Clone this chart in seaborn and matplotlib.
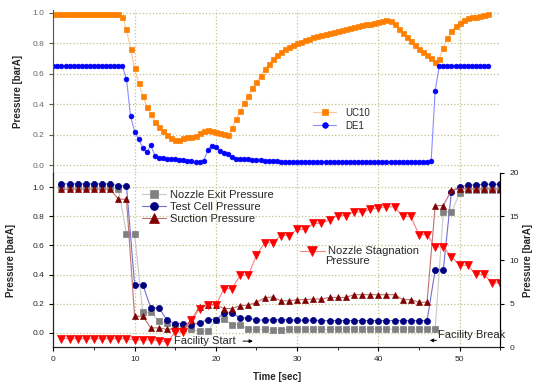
import numpy as np
import pandas as pd
import seaborn as sns
import matplotlib.pyplot as plt
from matplotlib.ticker import MultipleLocator, FormatStrFormatter

# top panel, logged every 0.5 s
t_top = np.arange(0, 54, 0.5)
uc10 = [0.995, 0.995, 0.995, 0.995, 0.995, 0.995, 0.995, 0.995, 0.995, 0.995,
        0.995, 0.995, 0.995, 0.995, 0.995, 0.995, 0.995, 0.974, 0.891, 0.760,
        0.636, 0.537, 0.454, 0.384, 0.334, 0.286, 0.253, 0.227, 0.199, 0.177,
        0.166, 0.162, 0.180, 0.184, 0.184, 0.190, 0.210, 0.225, 0.230, 0.225,
        0.216, 0.214, 0.205, 0.196, 0.242, 0.301, 0.356, 0.406, 0.454, 0.505,
        0.548, 0.587, 0.629, 0.662, 0.695, 0.723, 0.744, 0.762, 0.775, 0.788,
        0.799, 0.810, 0.820, 0.830, 0.840, 0.847, 0.855, 0.862, 0.869, 0.875,
        0.882, 0.888, 0.895, 0.901, 0.908, 0.915, 0.920, 0.925, 0.930, 0.935,
        0.940, 0.945, 0.950, 0.945, 0.925, 0.895, 0.865, 0.840, 0.812, 0.790,
        0.765, 0.745, 0.725, 0.705, 0.677, 0.700, 0.771, 0.832, 0.880, 0.913,
        0.934, 0.952, 0.963, 0.970, 0.976, 0.980, 0.987, 0.995]
de1 = [0.650, 0.650, 0.650, 0.650, 0.650, 0.650, 0.650, 0.650, 0.650, 0.650,
       0.650, 0.650, 0.650, 0.650, 0.650, 0.650, 0.650, 0.650, 0.566, 0.323,
       0.220, 0.169, 0.115, 0.083, 0.129, 0.063, 0.048, 0.044, 0.040, 0.040,
       0.038, 0.036, 0.035, 0.030, 0.024, 0.020, 0.020, 0.026, 0.098, 0.128,
       0.117, 0.090, 0.080, 0.075, 0.050, 0.042, 0.042, 0.040, 0.038, 0.036,
       0.035, 0.032, 0.030, 0.028, 0.025, 0.024, 0.023, 0.022, 0.022, 0.021,
       0.021, 0.021, 0.020, 0.020, 0.020, 0.020, 0.020, 0.020, 0.020, 0.020,
       0.020, 0.020, 0.020, 0.020, 0.020, 0.020, 0.020, 0.020, 0.020, 0.020,
       0.020, 0.020, 0.020, 0.020, 0.020, 0.020, 0.020, 0.020, 0.020, 0.020,
       0.020, 0.020, 0.020, 0.025, 0.490, 0.650, 0.650, 0.650, 0.650, 0.650,
       0.650, 0.650, 0.650, 0.650, 0.650, 0.650, 0.650, 0.650]

# bottom panel, logged every 1 s
t_bot = np.arange(1, 56)
nozzle_exit = [1.0, 1.0, 1.0, 1.0, 1.0, 1.0, 1.0, 0.99, 0.68, 0.68,
               0.14, 0.14, 0.08, 0.065, 0.046, 0.046, 0.023, 0.011, 0.011, 0.09,
               0.095, 0.057, 0.057, 0.023, 0.023, 0.023, 0.022, 0.022, 0.023, 0.023,
               0.025, 0.025, 0.023, 0.023, 0.025, 0.025, 0.025, 0.025, 0.025, 0.025,
               0.025, 0.025, 0.025, 0.025, 0.025, 0.025, 0.025, 0.829, 0.829, 0.959,
               0.98, 0.98, 0.98, 0.98, 0.98]
test_cell = [1.023, 1.023, 1.023, 1.023, 1.023, 1.023, 1.023, 1.01, 1.01, 0.331,
             0.331, 0.171, 0.171, 0.086, 0.064, 0.064, 0.055, 0.068, 0.091, 0.091,
             0.137, 0.137, 0.102, 0.100, 0.090, 0.086, 0.090, 0.090, 0.090, 0.086,
             0.086, 0.086, 0.084, 0.084, 0.084, 0.084, 0.084, 0.084, 0.084, 0.084,
             0.084, 0.084, 0.084, 0.084, 0.084, 0.084, 0.433, 0.433, 0.970, 1.004,
             1.015, 1.015, 1.02, 1.02, 1.02]
suction = [0.986, 0.986, 0.986, 0.986, 0.986, 0.986, 0.986, 0.918, 0.918, 0.114,
           0.114, 0.034, 0.034, 0.023, 0.030, 0.030, 0.090, 0.180, 0.194, 0.194,
           0.167, 0.167, 0.187, 0.190, 0.210, 0.240, 0.247, 0.220, 0.220, 0.228,
           0.228, 0.232, 0.232, 0.243, 0.243, 0.243, 0.262, 0.262, 0.262, 0.262,
           0.262, 0.262, 0.228, 0.228, 0.210, 0.210, 0.874, 0.874, 0.980, 0.990,
           0.990, 0.990, 0.990, 0.990, 0.990]
stagnation = [1.0, 1.0, 1.0, 1.0, 1.0, 1.0, 1.0, 1.0, 1.0, 0.85,
              0.85, 0.85, 0.75, 0.6, 1.76, 1.76, 3.1, 4.44, 4.82, 4.82,
              6.73, 6.73, 8.26, 8.26, 10.56, 11.97, 11.97, 12.8, 12.8, 13.5,
              13.5, 14.2, 14.2, 14.6, 15.1, 15.1, 15.5, 15.5, 15.8, 16.0,
              16.1, 16.1, 15.0, 15.0, 12.9, 12.9, 11.5, 11.5, 10.4, 9.4,
              9.4, 8.35, 8.35, 7.4, 7.4]

sns.set_style('ticks')
plt.rcParams['font.family'] = ['Liberation Sans', 'DejaVu Sans']
plt.rcParams['xtick.direction'] = 'out'
plt.rcParams['ytick.direction'] = 'out'

fig = plt.figure(figsize=(5.39, 3.89), dpi=100)
ax1 = fig.add_axes([0.099, 0.556, 0.829, 0.418])
ax2 = fig.add_axes([0.099, 0.107, 0.829, 0.449])
ax3 = ax2.twinx()

grid_kw = dict(color='#c2c28a', linestyle=':', linewidth=0.9)

# ---- top panel ----
sns.lineplot(x=t_top, y=uc10, ax=ax1, color='#ffc890', lw=0.8, marker='s', ms=3.6,
             mfc='#ff8000', mec='#ff8000', mew=0.5, label='UC10')
sns.lineplot(x=t_top, y=de1, ax=ax1, color='#8c8cff', lw=0.8, marker='o', ms=3.4,
             mfc='#0000ff', mec='#0000ff', mew=0.5, label='DE1')
ax1.set_xlim(0, 55)
ax1.set_ylim(-0.05, 1.018)
ax1.xaxis.set_major_locator(MultipleLocator(10))
ax1.xaxis.set_minor_locator(MultipleLocator(5))
ax1.yaxis.set_major_locator(MultipleLocator(0.2))
ax1.yaxis.set_major_formatter(FormatStrFormatter('%.1f'))
ax1.tick_params(axis='x', which='both', labelbottom=False, length=3, color='#555555')
ax1.tick_params(axis='y', labelsize=6, labelcolor='#666666', length=3, color='#555555')
ax1.grid(True, **grid_kw)
ax1.set_axisbelow(True)
for s in ['top', 'right']:
    ax1.spines[s].set_visible(False)
for s in ['left', 'bottom']:
    ax1.spines[s].set_color('#555555')
ax1.set_xlabel('')
ax1.set_ylabel('Pressure [barA]', fontsize=7, fontweight='bold')
ax1.yaxis.set_label_coords(-0.068, 0.5)
ax1.legend(loc='upper left', bbox_to_anchor=(0.57, 0.43), frameon=False, fontsize=7,
           handlelength=2.4, handletextpad=0.9, labelspacing=0.3, borderpad=0,
           markerscale=1.2)

# ---- bottom panel ----
sns.lineplot(x=t_bot, y=nozzle_exit, ax=ax2, color='#c8c8c8', lw=0.8, marker='s', ms=4.2,
             mfc='#808080', mec='#808080', mew=0.5, label='Nozzle Exit Pressure')
sns.lineplot(x=t_bot, y=test_cell, ax=ax2, color='#7070d0', lw=0.8, marker='o', ms=4.4,
             mfc='#000080', mec='#000080', mew=0.5, label='Test Cell Pressure')
sns.lineplot(x=t_bot, y=suction, ax=ax2, color='#c07070', lw=0.8, marker='^', ms=5,
             mfc='#800000', mec='#800000', mew=0.5, label='Suction Pressure')
sns.lineplot(x=t_bot, y=stagnation, ax=ax3, color='#ff8080', lw=0.8, marker='v', ms=5.2,
             mfc='#ff0000', mec='#ff0000', mew=0.5, label='Nozzle Stagnation')

ax2.set_xlim(0, 55)
ax2.set_ylim(-0.1, 1.1)
ax3.set_ylim(0, 20)
ax2.xaxis.set_major_locator(MultipleLocator(10))
ax2.xaxis.set_minor_locator(MultipleLocator(5))
ax2.yaxis.set_major_locator(MultipleLocator(0.2))
ax2.yaxis.set_major_formatter(FormatStrFormatter('%.1f'))
ax3.yaxis.set_major_locator(MultipleLocator(5))
ax2.tick_params(axis='both', which='both', labelsize=6, length=3, color='k')
ax2.tick_params(axis='x', which='minor', length=2)
ax3.tick_params(axis='y', labelsize=6, length=3, color='k')
ax2.grid(True, **grid_kw)
ax2.set_axisbelow(True)
ax2.spines['top'].set_visible(False)
ax3.spines['top'].set_visible(False)
for s in ['left', 'bottom']:
    ax2.spines[s].set_color('k')
ax3.spines['right'].set_color('k')
ax2.set_xlabel('Time [sec]', fontsize=7, fontweight='bold')
ax2.xaxis.set_label_coords(0.5, -0.14)
ax2.set_ylabel('Pressure [barA]', fontsize=7, fontweight='bold')
ax2.yaxis.set_label_coords(-0.083, 0.5)
ax3.set_ylabel('Pressure [barA]', fontsize=7, fontweight='bold')
ax3.yaxis.set_label_coords(1.05, 0.5)

ax2.legend(loc='upper left', bbox_to_anchor=(0.185, 0.935), frameon=False, fontsize=8,
           handlelength=2.2, handletextpad=0.4, labelspacing=0.2, borderpad=0,
           markerscale=1.3)
ax3.legend(loc='upper left', bbox_to_anchor=(0.54, 0.61), frameon=False, fontsize=8,
           handlelength=2.2, handletextpad=0.3, borderpad=0, markerscale=1.3)
ax3.text(33.4, 9.9, 'Pressure', fontsize=8, va='center', ha='left')

ax2.text(14.8, -0.057, 'Facility Start', fontsize=8, va='center', ha='left')
ax2.annotate('', xy=(24.9, -0.057), xytext=(23.0, -0.057),
             arrowprops=dict(arrowstyle='-|>', color='k', lw=0.7, mutation_scale=5))
ax2.text(47.3, -0.012, 'Facility Break', fontsize=8, va='center', ha='left')
ax2.annotate('', xy=(46.0, -0.052), xytext=(47.5, -0.052),
             arrowprops=dict(arrowstyle='-|>', color='k', lw=0.7, mutation_scale=5))

fig.savefig('out.png', dpi=100)
